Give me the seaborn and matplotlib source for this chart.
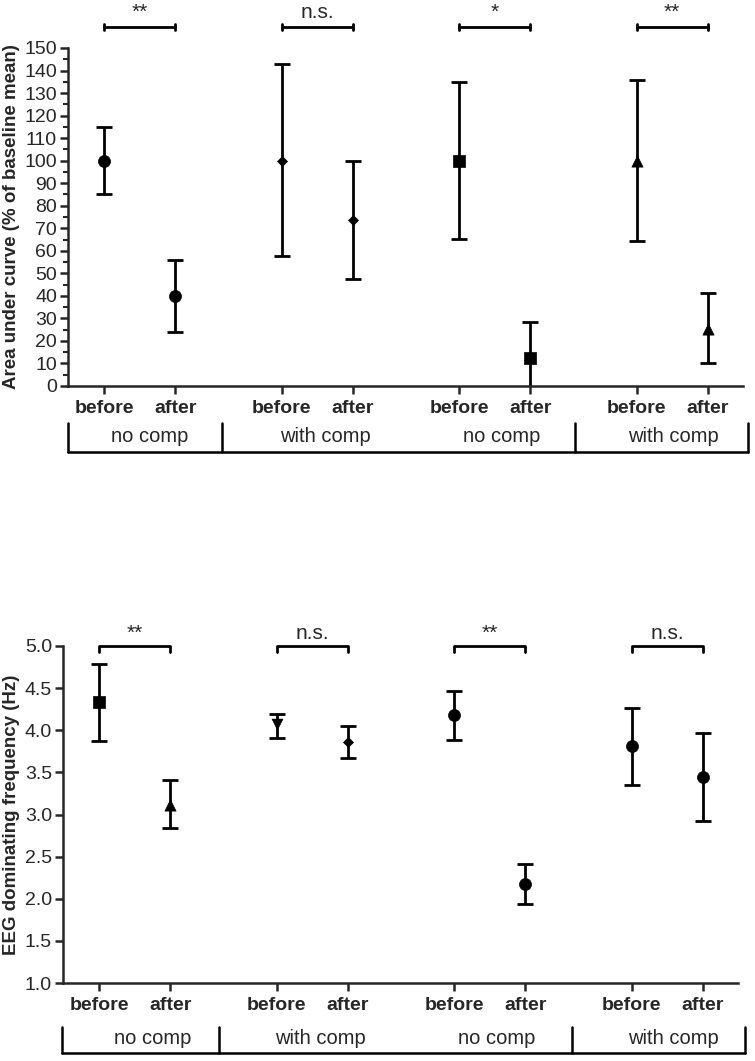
import numpy as np
import pandas as pd
import seaborn as sns
import matplotlib.pyplot as plt
from matplotlib.lines import Line2D

# x layout: before/after pairs for four groups
positions = [0, 1, 2.5, 3.5, 5, 6, 7.5, 8.5]
tick_labels = ["before", "after"] * 4
group_labels = ["no comp", "with comp", "no comp", "with comp"]

# top panel: area under curve (% of baseline mean)
auc_mean = [100, 40, 100, 73.8, 100, 12.3, 100, 25.2]
auc_lo = [85, 24, 57.5, 47.5, 65.3, -3.7, 64.3, 10.4]
auc_hi = [115, 56, 143, 100, 134.8, 28.3, 135.9, 41.2]
auc_markers = ["o", "o", "D", "D", "s", "s", "^", "^"]
auc_sig = ["**", "n.s.", "*", "**"]

# bottom panel: EEG dominating frequency (Hz)
eeg_mean = [4.33, 3.11, 4.07, 3.86, 4.18, 2.17, 3.81, 3.45]
eeg_lo = [3.87, 2.84, 3.91, 3.67, 3.89, 1.94, 3.35, 2.92]
eeg_hi = [4.79, 3.41, 4.19, 4.05, 4.46, 2.41, 4.27, 3.97]
eeg_markers = ["s", "^", "v", "D", "o", "o", "o", "o"]
eeg_sig = ["**", "n.s.", "**", "n.s."]

marker_size = {"o": 75, "s": 65, "^": 65, "v": 60, "D": 26}

sns.set_style("ticks")
plt.rcParams["font.family"] = ["Liberation Sans", "DejaVu Sans"]
plt.rcParams["axes.linewidth"] = 1.8

W, H = 755, 1061
fig = plt.figure(figsize=(W / 100, H / 100), dpi=100)


def fx(px):
    return px / W


def fy(py):
    return 1 - py / H


def draw_points(ax, mean, lo, hi, markers):
    mean = np.array(mean)
    yerr = [mean - np.array(lo), np.array(hi) - mean]
    ax.errorbar(positions, mean, yerr=yerr, fmt="none", ecolor="black",
                elinewidth=2.0, capsize=5.5, capthick=2.0)
    df = pd.DataFrame({"x": positions, "y": mean, "m": markers})
    for m, sub in df.groupby("m"):
        sns.scatterplot(data=sub, x="x", y="y", marker=m, s=marker_size[m],
                        color="black", edgecolor="black", linewidth=0.5,
                        ax=ax, legend=False, zorder=3)


def style_axis(ax, ylabel):
    ax.set_xlim(-0.51, 9.0)
    ax.set_xticks(positions)
    ax.set_xticklabels(tick_labels, fontsize=14, fontweight="bold")
    ax.set_xlabel("")
    ax.set_ylabel(ylabel, fontsize=13.5, fontweight="bold", labelpad=3)
    ax.tick_params(axis="both", width=1.8, length=6, labelsize=14, pad=2)
    ax.tick_params(axis="x", pad=4)
    sns.despine(ax=ax)


def group_row(x_div, y_top, y_line, y_text, text_x):
    for xd in x_div:
        fig.add_artist(Line2D([fx(xd), fx(xd)], [fy(y_top), fy(y_line)],
                              color="black", lw=1.8))
    fig.add_artist(Line2D([fx(x_div[0]), fx(x_div[-1])], [fy(y_line), fy(y_line)],
                          color="black", lw=1.8))
    for lab, tx in zip(group_labels, text_x):
        fig.text(fx(tx), fy(y_text), lab, fontsize=14.5, ha="center", va="center")


# ---- top panel
ax1 = fig.add_axes([fx(68), fy(386), fx(743) - fx(68), fy(48) - fy(386)])
draw_points(ax1, auc_mean, auc_lo, auc_hi, auc_markers)
ax1.set_ylim(0, 150)
ax1.set_yticks(np.arange(0, 151, 10))
ax1.set_yticks(np.arange(5, 150, 10), minor=True)
ax1.tick_params(axis="y", which="minor", length=3.5, width=1.5)
style_axis(ax1, "Area under curve (% of baseline mean)")

tr1 = ax1.get_xaxis_transform()
for i, lab in enumerate(auc_sig):
    x0, x1 = positions[2 * i], positions[2 * i + 1]
    ax1.plot([x0, x1], [1.062, 1.062], color="black", lw=2.0,
             transform=tr1, clip_on=False)
    for xx in (x0, x1):
        ax1.plot([xx, xx], [1.052, 1.072], color="black", lw=2.0,
                 transform=tr1, clip_on=False)
    ax1.text((x0 + x1) / 2, 1.089, lab, fontsize=15, ha="center",
             va="baseline", transform=tr1)

group_row([68, 222, 575, 748], 423, 452, 437, [150, 325, 502, 673])

# ---- bottom panel
ax2 = fig.add_axes([fx(63), fy(983), fx(738) - fx(63), fy(646) - fy(983)])
draw_points(ax2, eeg_mean, eeg_lo, eeg_hi, eeg_markers)
ax2.set_ylim(1.0, 5.0)
ax2.set_yticks(np.arange(1.0, 5.01, 0.5))
ax2.set_yticklabels([f"{v:.1f}" for v in np.arange(1.0, 5.01, 0.5)])
style_axis(ax2, "EEG dominating frequency (Hz)")

for i, lab in enumerate(eeg_sig):
    x0, x1 = positions[2 * i], positions[2 * i + 1]
    ax2.plot([x0, x0, x1, x1], [4.93, 5.0, 5.0, 4.93], color="black", lw=2.0,
             clip_on=False)
    ax2.text((x0 + x1) / 2, 5.08, lab, fontsize=15, ha="center", va="baseline")

group_row([62, 219, 572, 745], 1027, 1053, 1039, [153, 320, 497, 673])

fig.savefig("out.png", dpi=100)
